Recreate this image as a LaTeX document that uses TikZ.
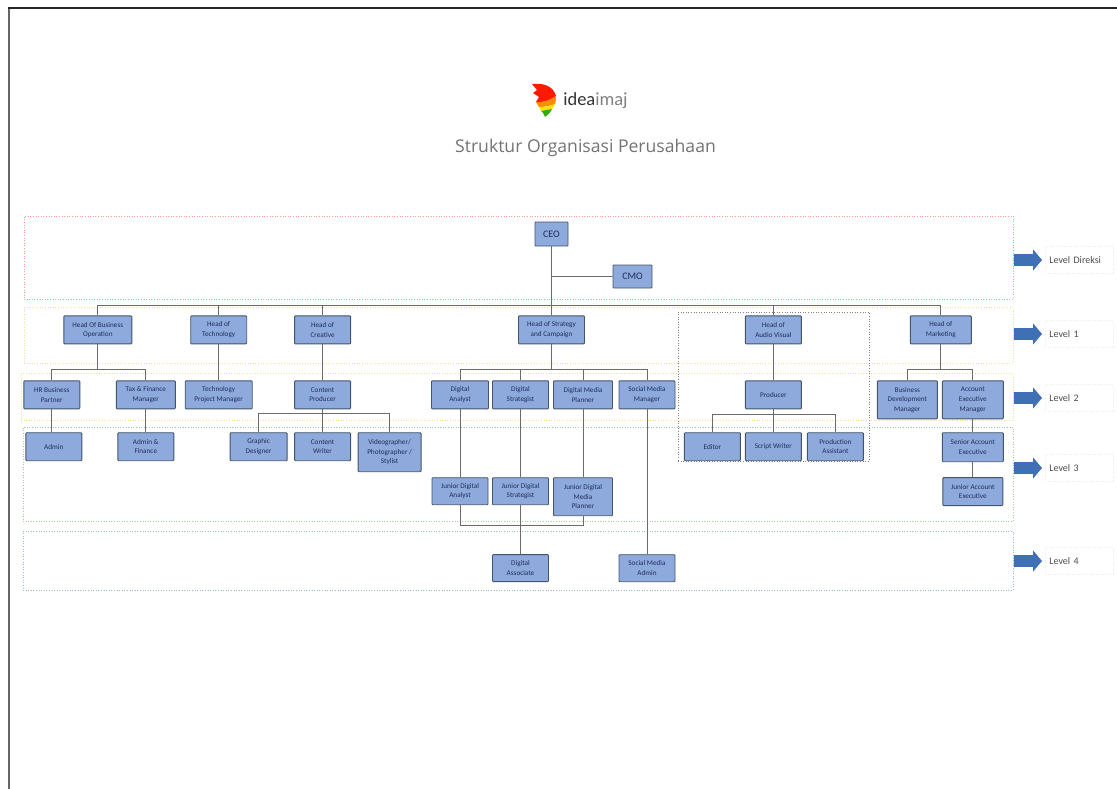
\documentclass[tikz,border=0pt]{standalone}
\usepackage{fontspec}
\setmainfont{Carlito}
\newfontfamily\titlefont{Open Sans}
\usetikzlibrary{positioning, shapes.arrows}

\definecolor{boxfill}{HTML}{8EA9DB}
\definecolor{boxline}{HTML}{44546A}
\definecolor{boxtext}{HTML}{1F2F5C}
\definecolor{arrowblue}{HTML}{3F6FB5}

\tikzset{
	jabatan/.style={draw=boxline, line width=0.9pt, fill=boxfill, text=boxtext, rounded corners=0.8pt,
		minimum width=56pt, minimum height=28pt, inner sep=0pt, align=center,
		font=\fontsize{7.2}{9.6}\selectfont},
	band/.style={draw=#1, dotted, line width=0.6pt, inner sep=0pt},
	levelarrow/.style={single arrow, fill=arrowblue, minimum width=21pt, minimum height=28pt,
		single arrow head extend=4.5pt, single arrow tip angle=100, inner sep=5.5pt},
	levellabel/.style={draw=black!8, dotted, minimum height=27pt, text width=60pt, inner xsep=4pt, inner ysep=1pt,
		text=black!70, align=left, font=\fontsize{10}{12}\selectfont},
	conn/.style={draw=black!58, line width=0.9pt}
}

\begin{document}
\begin{tikzpicture}[x=1pt, y=-1pt]
		\useasboundingbox (0,0) rectangle (1117,789);

		% Page edge
		\draw[black!60, line width=2pt] (9,789) -- (9,8);
		\draw[black!85, line width=1.1pt] (8,8) -- (1117,8);

		% Logo and title
		\fill[red!80!orange] (532,84) .. controls (542,83) and (553,85) .. (556,96) .. controls (552,99) and (544,103) .. (536,102) -- (539,97) -- (533,93) -- (537,90) -- cycle;
		\fill[orange!90!yellow] (536,102) .. controls (544,103) and (552,99) .. (556,96) .. controls (556,99) and (556,101) .. (555,104) .. controls (550,106) and (544,107) .. (539,107) -- cycle;
		\fill[yellow!85!orange] (539,107) .. controls (544,107) and (550,106) .. (555,104) .. controls (554,106) and (553,108) .. (552,109) -- (541,111) -- cycle;
		\fill[green!60!black!80!yellow] (541,111) -- (552,109) .. controls (550,113) and (548,115) .. (545,117) -- (543,113) -- cycle;
		\node (logotext) at (595.5,101) {\fontsize{18.5}{20}\selectfont\color{black!80}idea\color{black!50}imaj};
		\node[below=23pt of logotext, xshift=-10pt, text=black!55, font=\titlefont\fontsize{17.6}{20}\selectfont] (title) {Struktur Organisasi Perusahaan};

		% Level bands
		\node[band=red!40, minimum width=989pt, minimum height=83pt] (banddireksi) at (518.5,257.5) {};
		\node[band=yellow!40!orange!40, minimum width=989pt, minimum height=56pt] (bandsatu) at (518.5,335) {};
		\node[band=yellow!40!orange!40, minimum width=992pt, minimum height=47pt] (banddua) at (517,396.5) {};
		\node[band=green!40!black!35, minimum width=990pt, minimum height=94pt] (bandtiga) at (518,474) {};
		\node[band=teal!45, minimum width=990pt, minimum height=59pt] (bandempat) at (518,560.5) {};
		\node[band=black!50, minimum width=191pt, minimum height=149pt] (bandav) at (773.5,386.5) {};

		% Level arrows and labels
		\node[levelarrow] (panahdireksi) at (1025.5,260) {};
		\node[levelarrow] (panahsatu) at (1025.5,334) {};
		\node[levelarrow] (panahdua) at (1025.5,398) {};
		\node[levelarrow] (panahtiga) at (1025.5,468) {};
		\node[levelarrow] (panahempat) at (1025.5,561) {};
		\node[levellabel, right=3pt of panahdireksi] (leveldireksi) {Level Direksi};
		\node[levellabel, right=3pt of panahsatu] (levelsatu) {Level 1};
		\node[levellabel, right=3pt of panahdua] (leveldua) {Level 2};
		\node[levellabel, right=3pt of panahtiga] (leveltiga) {Level 3};
		\node[levellabel, right=3pt of panahempat] (levelempat) {Level 4};

		% Direksi
		\node[jabatan, minimum width=33pt, minimum height=24pt] (ceo) at (551.5,234) {\fontsize{10}{12}\selectfont CEO};
		\node[jabatan, minimum width=39pt, minimum height=23pt] (cmo) at (632.5,276.5) {\fontsize{10}{12}\selectfont CMO};

		% Level 1
		\node[jabatan, minimum width=66pt, below=69pt of ceo] (strategi) {Head of Strategy\\and Campaign};
		\node[jabatan, left=167pt of strategi] (kreatif) {Head of\\Creative};
		\node[jabatan, left=47pt of kreatif] (teknologi) {Head of\\Technology};
		\node[jabatan, minimum width=68pt, left=58pt of teknologi] (bisnis) {Head Of Business\\Operation};
		\node[jabatan, right=160pt of strategi] (audio) {Head of\\Audio Visual};
		\node[jabatan, minimum width=61pt, right=108pt of audio] (marketing) {Head of\\Marketing};

		% Level 2
		\node[jabatan, below=36pt of bisnis, xshift=-46pt] (hr) {HR Business\\Partner};
		\node[jabatan, minimum width=59pt, below=36pt of bisnis, xshift=48pt] (tax) {Tax \& Finance\\Manager};
		\node[jabatan, minimum width=67pt, below=36pt of teknologi] (projek) {Technology\\Project Manager};
		\node[jabatan, below=36pt of kreatif] (konten) {Content\\Producer};
		\node[jabatan, minimum width=57pt, below=36pt of strategi, xshift=-91.5pt] (analyst) {Digital\\Analyst};
		\node[jabatan, below=36pt of strategi, xshift=-31pt] (strategist) {Digital\\Strategist};
		\node[jabatan, minimum width=59pt, below=36pt of strategi, xshift=31.5pt] (planner) {Digital Media\\Planner};
		\node[jabatan, below=36pt of strategi, xshift=95.5pt] (sosmed) {Social Media\\Manager};
		\node[jabatan, below=36pt of audio] (produser) {Producer};
		\node[jabatan, minimum width=60pt, minimum height=38pt, below=36pt of marketing, xshift=-33.5pt] (bizdev) {Business\\Development\\Manager};
		\node[jabatan, minimum width=61pt, minimum height=38pt, below=36pt of marketing, xshift=32pt] (akun) {Account\\Executive\\Manager};

		% Level 3
		\node[jabatan, below=23pt of hr, xshift=2pt] (admin) {Admin};
		\node[jabatan, below=23pt of tax] (adminfin) {Admin \&\\Finance};
		\node[jabatan, minimum width=57pt, below=23pt of konten, xshift=-64pt] (grafis) {Graphic\\Designer};
		\node[jabatan, below=23pt of konten] (penulis) {Content\\Writer};
		\node[jabatan, minimum width=63pt, minimum height=39pt, below=23pt of konten, xshift=67pt] (video) {Videographer/\\Photographer /\\Stylist};
		\node[jabatan, below=23pt of produser, xshift=-61pt] (editor) {Editor};
		\node[jabatan, below=23pt of produser] (skrip) {Script Writer};
		\node[jabatan, below=23pt of produser, xshift=62pt] (asisten) {Production\\Assistant};
		\node[jabatan, minimum width=61pt, minimum height=29pt, below=13pt of akun] (senior) {Senior Account\\Executive};
		\node[jabatan, minimum width=60pt, below=15pt of senior] (junior) {Junior Account\\Executive};
		\node[jabatan, minimum height=27pt, below=68pt of analyst] (junanalyst) {Junior Digital\\Analyst};
		\node[jabatan, minimum height=27pt, below=68pt of strategist] (junstrategist) {Junior Digital\\Strategist};
		\node[jabatan, minimum width=59pt, minimum height=38pt, below=68pt of planner] (junplanner) {Junior Digital\\Media\\Planner};

		% Level 4
		\node[jabatan, minimum height=27pt, below=49pt of junstrategist] (asosiasi) {Digital\\Associate};
		\node[jabatan, minimum height=27pt, below=145pt of sosmed] (sosadmin) {Social Media\\Admin};

		% Bus points
		\coordinate[below=59pt of ceo] (bus);
		\coordinate[below=30pt of ceo] (buscmo);
		\coordinate[below=25pt of bisnis] (busbisnis);
		\coordinate[below=25pt of strategi] (busstrategi);
		\coordinate[below=25pt of marketing] (busmarketing);
		\coordinate[below=4.5pt of konten] (buskonten);
		\coordinate[below=5pt of produser] (busproduser);
		\coordinate[below=20pt of junstrategist] (busjunior);

		% Connect the boxes
		\draw[conn] (ceo.south) -- (strategi.north);
		\draw[conn] (buscmo) -- (cmo.west);
		\draw[conn] (bus) -| (bisnis.north);
		\draw[conn] (bus) -| (teknologi.north);
		\draw[conn] (bus) -| (kreatif.north);
		\draw[conn] (bus) -| (audio.north);
		\draw[conn] (bus) -| (marketing.north);
		\draw[conn] (bisnis.south) -- (busbisnis);
		\draw[conn] (busbisnis) -| (hr.north);
		\draw[conn] (busbisnis) -| (tax.north);
		\draw[conn] (teknologi.south) -- (projek.north);
		\draw[conn] (kreatif.south) -- (konten.north);
		\draw[conn] (strategi.south) -- (busstrategi);
		\draw[conn] (busstrategi) -| (analyst.north);
		\draw[conn] (busstrategi) -| (strategist.north);
		\draw[conn] (busstrategi) -| (planner.north);
		\draw[conn] (busstrategi) -| (sosmed.north);
		\draw[conn] (audio.south) -- (produser.north);
		\draw[conn] (marketing.south) -- (busmarketing);
		\draw[conn] (busmarketing) -| (bizdev.north);
		\draw[conn] (busmarketing) -| (akun.north);
		\draw[conn] (hr.south) -- (hr.south |- admin.north);
		\draw[conn] (tax.south) -- (adminfin.north);
		\draw[conn] (konten.south) -- (penulis.north);
		\draw[conn] (buskonten) -| (grafis.north);
		\draw[conn] (buskonten) -| (video.north);
		\draw[conn] (produser.south) -- (skrip.north);
		\draw[conn] (busproduser) -| (editor.north);
		\draw[conn] (busproduser) -| (asisten.north);
		\draw[conn] (akun.south) -- (senior.north);
		\draw[conn] (senior.south) -- (junior.north);
		\draw[conn] (analyst.south) -- (junanalyst.north);
		\draw[conn] (strategist.south) -- (junstrategist.north);
		\draw[conn] (planner.south) -- (junplanner.north);
		\draw[conn] (sosmed.south) -- (sosadmin.north);
		\draw[conn] (junstrategist.south) -- (asosiasi.north);
		\draw[conn] (junanalyst.south) |- (busjunior) -| (junplanner.south);
	\end{tikzpicture}
\end{document}
